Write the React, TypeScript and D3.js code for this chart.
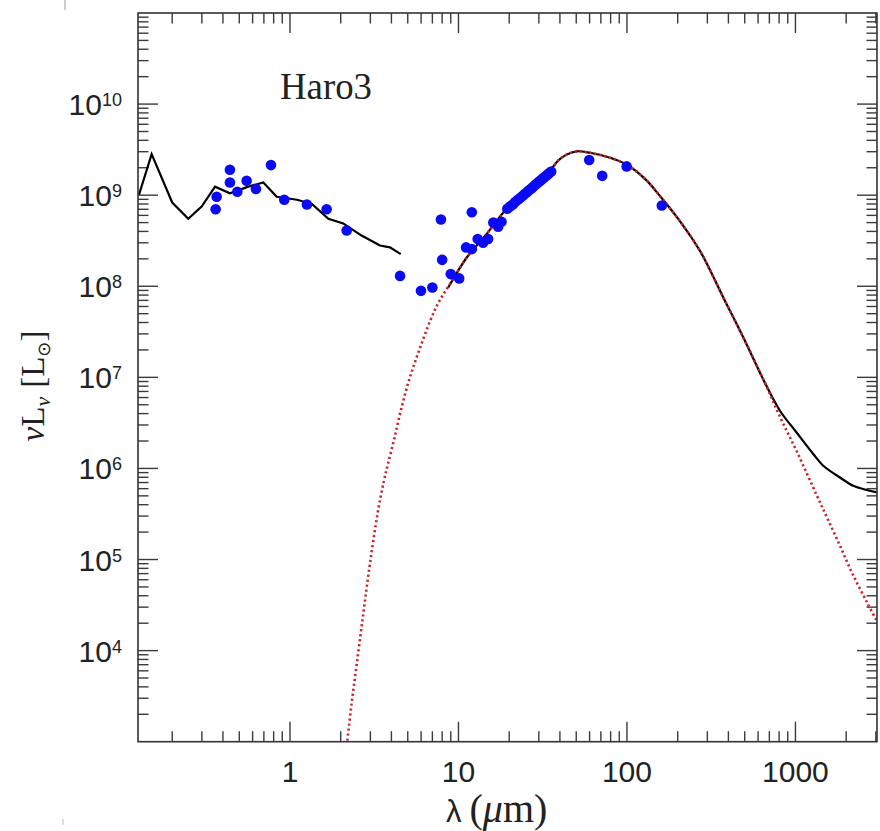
import React from "react";
import * as d3 from "d3";

// ---- data ----
// stellar + nebular model, UV/optical part (lambda in micron, nuL_nu in L_sun)
const uvLambda = [0.127, 0.151, 0.2, 0.249, 0.299, 0.359, 0.44, 0.566, 0.695, 0.834, 1.1, 1.35, 1.69, 2.07, 2.66, 3.42, 3.92, 4.54];
const uvLum = [1.01e9, 2.82e9, 8.3e8, 5.5e8, 7.5e8, 1.24e9, 1.05e9, 1.24e9, 1.38e9, 9.6e8, 8.9e8, 8.0e8, 5.5e8, 4.9e8, 3.6e8, 2.8e8, 2.67e8, 2.25e8];

// total model, IR part
const irLambda = [8.7, 11.2, 14.4, 19.1, 25.9, 34.0, 39.0, 43.5, 50.5, 60.3, 79.3, 100, 128, 157, 206, 271, 382, 488, 659, 809, 1016, 1276, 1462, 1837, 2203, 2647, 3034];
const irLum = [9.7e7, 2.07e8, 3.58e8, 6.9e8, 1.15e9, 1.76e9, 2.39e9, 2.77e9, 3.03e9, 2.92e9, 2.58e9, 2.16e9, 1.51e9, 9.8e8, 5.2e8, 2.45e8, 6.9e7, 2.79e7, 8.7e6, 4.3e6, 2.48e6, 1.44e6, 1.07e6, 7.96e5, 6.45e5, 5.8e5, 5.46e5];

// modified black body (red dotted)
const bbLambda = [2.19, 2.32, 2.49, 2.72, 2.98, 3.31, 3.61, 3.82, 4.17, 4.6, 5.15, 5.91, 6.87, 7.66, 8.9, 11.2, 14.4, 19.1, 25.9, 34.0, 39.0, 43.5, 50.5, 60.3, 79.3, 100, 128, 157, 206, 271, 382, 488, 659, 809, 1021, 1343, 1538, 1837, 2194, 2656, 3048];
const bbLum = [1.03e3, 2.6e3, 7.1e3, 2.5e4, 8.9e4, 3.2e5, 7.3e5, 1.13e6, 2.17e6, 4.7e6, 1.0e7, 2.1e7, 4.4e7, 6.76e7, 1.06e8, 2.07e8, 3.58e8, 6.9e8, 1.15e9, 1.76e9, 2.39e9, 2.77e9, 3.03e9, 2.92e9, 2.58e9, 2.16e9, 1.51e9, 9.8e8, 5.2e8, 2.45e8, 6.9e7, 2.79e7, 8.7e6, 3.7e6, 1.52e6, 5.0e5, 2.9e5, 1.42e5, 6.8e4, 3.4e4, 2.1e4];

// observed photometry (blue dots)
const obsLambda = [0.362, 0.367, 0.44, 0.44, 0.487, 0.553, 0.628, 0.771, 0.925, 1.26, 1.65, 2.17, 4.5, 5.99, 7.0, 7.87, 8.0, 9.0, 10.1, 11.1, 12.0, 12.0, 13.0, 14.0, 15.0, 16.1, 17.2, 18.0,
  19.5, 20.2, 21, 21.7, 22.5, 23.2, 24, 24.7, 25.5, 26.2, 27, 27.7, 28.5, 29.2, 30, 30.7, 31.5, 32.2, 33, 33.7, 34.5, 35.5,
  59.7, 71.3, 99.6, 161];
const obsLum = [7.0e8, 9.6e8, 1.9e9, 1.38e9, 1.09e9, 1.44e9, 1.17e9, 2.14e9, 8.9e8, 7.9e8, 7.0e8, 4.1e8, 1.3e8, 8.9e7, 9.7e7, 5.4e8, 1.95e8, 1.36e8, 1.22e8, 2.67e8, 6.5e8, 2.56e8, 3.3e8, 3.0e8, 3.3e8, 5.0e8, 4.5e8, 5.1e8,
  7.1e8, 7.5e8, 7.9e8, 8.4e8, 8.9e8, 9.3e8, 9.8e8, 1.03e9, 1.08e9, 1.13e9, 1.18e9, 1.23e9, 1.29e9, 1.34e9, 1.4e9, 1.45e9, 1.51e9, 1.56e9, 1.62e9, 1.68e9, 1.74e9, 1.82e9,
  2.43e9, 1.63e9, 2.07e9, 7.7e8];

const xDomain = [0.1253, 3048];
const yDomain = [1e3, 1e11];
const xLabelValues = [1, 10, 100, 1000];
const xLabelTexts = ["1", "10", "100", "1000"];
const yLabelExponents = [4, 5, 6, 7, 8, 9, 10];

const objectName = "Haro3";

export default function App() {
  const W = 880, H = 831;
  const L = 138, R = 877, T = 13, B = 741.7;
  const x = d3.scaleLog().domain(xDomain).range([L, R]);
  const y = d3.scaleLog().domain(yDomain).range([B, T]);

  const isMajor = (v: number) => Math.abs(Math.log10(v) - Math.round(Math.log10(v))) < 1e-6;
  const xt = x.ticks();
  const yt = y.ticks();

  const straight = d3
    .line<[number, number]>()
    .x((d) => x(d[0]))
    .y((d) => y(d[1]));
  const smooth = d3
    .line<[number, number]>()
    .x((d) => x(d[0]))
    .y((d) => y(d[1]))
    .curve(d3.curveCatmullRom.alpha(0.5));

  const uv: [number, number][] = uvLambda.map((l, i) => [l, uvLum[i]]);
  const ir: [number, number][] = irLambda.map((l, i) => [l, irLum[i]]);
  const bb: [number, number][] = bbLambda.map((l, i) => [l, bbLum[i]]);

  const tickCol = "#3a3a3a";
  const major = 20, minor = 10.5;
  const sans = "Liberation Sans, Arial, sans-serif";
  const serif = "Liberation Serif, Times New Roman, serif";

  return (
    <svg width={W} height={H} style={{ position: "absolute", left: 0, top: 0, background: "#fff" }}>
      <rect x={0} y={0} width={W} height={H} fill="#fff" />
      {/* small scan artefacts */}
      <line x1={65} x2={65} y1={0} y2={10} stroke="#999" strokeWidth={1} />
      <line x1={63} x2={63} y1={819} y2={825} stroke="#bbb" strokeWidth={1} />

      <defs>
        <clipPath id="plot">
          <rect x={L} y={T} width={R - L} height={B - T} />
        </clipPath>
      </defs>

      {/* ticks */}
      {xt.map((v, i) => {
        const len = isMajor(v) ? major : minor;
        const px = x(v);
        if (px < L + 0.5 || px > R - 0.5) return null;
        return (
          <g key={"xt" + i} stroke={tickCol} strokeWidth={1.4}>
            <line x1={px} x2={px} y1={B} y2={B - len} />
            <line x1={px} x2={px} y1={T} y2={T + len} />
          </g>
        );
      })}
      {yt.map((v, i) => {
        const len = isMajor(v) ? major : minor;
        const py = y(v);
        if (py < T + 0.5 || py > B - 0.5) return null;
        return (
          <g key={"yt" + i} stroke={tickCol} strokeWidth={1.4}>
            <line x1={L} x2={L + len} y1={py} y2={py} />
            <line x1={R} x2={R - len} y1={py} y2={py} />
          </g>
        );
      })}

      {/* curves */}
      <g clipPath="url(#plot)">
        <path d={straight(uv) || ""} fill="none" stroke="#000" strokeWidth={2.2} strokeLinejoin="miter" />
        <path d={smooth(ir) || ""} fill="none" stroke="#000" strokeWidth={2.2} strokeLinejoin="round" />
        <path d={smooth(bb) || ""} fill="none" stroke="#c8262a" strokeWidth={2.6} strokeDasharray="2.2 2.8" />
        {obsLambda.map((l, i) => (
          <circle key={"o" + i} cx={x(l)} cy={y(obsLum[i])} r={5.3} fill="#0a0af5" />
        ))}
      </g>

      {/* frame */}
      <rect x={L} y={T} width={R - L} height={B - T} fill="none" stroke="#333" strokeWidth={1.6} />

      {/* x tick labels */}
      {xLabelValues.map((v, i) => (
        <text key={"xl" + i} x={x(v)} y={782} textAnchor="middle" fontFamily={sans} fontSize={30} fill="#222">
          {xLabelTexts[i]}
        </text>
      ))}

      {/* y tick labels */}
      {yLabelExponents.map((e) => (
        <text
          key={"yl" + e}
          x={122}
          y={y(Math.pow(10, e)) + 11}
          textAnchor="end"
          fontFamily={sans}
          fontSize={30}
          fill="#222"
        >
          10
          <tspan fontSize={18} dy={-9}>
            {String(e)}
          </tspan>
        </text>
      ))}

      {/* axis titles */}
      <text x={446} y={822} fontFamily={serif} fontSize={40} fill="#222">
        <tspan fontFamily={sans} fontSize={31}>λ</tspan>
        <tspan dx={8}>(</tspan>
        <tspan fontStyle="italic">μ</tspan>
        <tspan>m)</tspan>
      </text>
      <text
        transform={`translate(44, 386) rotate(-90)`}
        textAnchor="middle"
        fontFamily={serif}
        fontSize={33}
        fill="#222"
      >
        <tspan fontStyle="italic">ν</tspan>
        <tspan>L</tspan>
        <tspan fontStyle="italic" fontSize={22} dy={6}>ν</tspan>
        <tspan dy={-6} dx={9}>[L</tspan>
        <tspan fontFamily="DejaVu Sans, sans-serif" fontSize={18} dy={6}>⊙</tspan>
        <tspan dy={-6}>]</tspan>
      </text>

      {/* object name */}
      <text x={280} y={99} fontFamily={serif} fontSize={38} fill="#222" textLength={92} lengthAdjust="spacingAndGlyphs">
        {objectName}
      </text>
    </svg>
  );
}
